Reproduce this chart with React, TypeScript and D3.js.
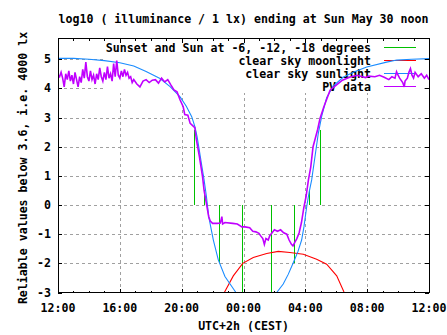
import React from "react";
import * as d3 from "d3";

// hours since 12:00 (Sat) -> value log10(lx)
const blueT = [0, 1, 2, 3, 4, 4.9, 5.7, 6.6, 7.25, 7.9, 8.3, 8.65, 8.86, 9.0, 9.15, 9.3, 9.45, 9.6, 9.75, 10.05, 10.37, 10.8, 11.51, 11.9,
  13.8, 14.15, 14.57, 14.9, 15.22, 15.52, 15.76, 15.91, 16.09, 16.25, 16.41, 16.84, 17.06, 17.38, 17.81, 18.45, 19.1, 19.97, 21.26, 21.91, 22.88, 24];
const blueV = [5.03, 5.03, 5.0, 4.95, 4.88, 4.77, 4.58, 4.34, 4.06, 3.71, 3.39, 3.03, 2.68, 2.34, 1.85, 1.35, 0.86, 0.3, -0.4, -1.2, -1.88, -2.45, -3.0, -3.3,
  -3.4, -3.0, -2.71, -2.37, -1.98, -1.6, -1.2, -0.75, -0.05, 0.45, 0.86, 2.46, 3.05, 3.68, 4.09, 4.38, 4.55, 4.73, 4.9, 4.97, 5.0, 5.02];

const redT = [10.76, 11.34, 11.95, 12.63, 13.5, 14.25, 15.0, 15.87, 16.73, 17.38, 18.03, 18.5];
const redV = [-3.0, -2.43, -2.0, -1.8, -1.66, -1.59, -1.63, -1.69, -1.86, -2.03, -2.43, -2.98];

const greenT = [8.82, 9.47, 10.43, 11.93, 13.8, 15.28, 16.24, 16.97];
const greenV = [2.57, 0.5, -2.0, -3.5, -3.5, -2.0, 0.5, 2.57];

const pvT = [0, 0.1, 0.2, 0.3, 0.4, 0.5, 0.6, 0.7, 0.8, 0.9, 1.0, 1.1, 1.2, 1.3, 1.4, 1.5, 1.6, 1.7, 1.8, 1.9, 2.0, 2.1, 2.2, 2.3, 2.4, 2.5, 2.6, 2.7, 2.8, 2.9,
  3.0, 3.1, 3.2, 3.3, 3.4, 3.5, 3.6, 3.7, 3.8, 3.9, 4.0, 4.1, 4.2, 4.3, 4.4, 4.5, 4.6, 4.7, 4.8, 4.9, 5.1, 5.3, 5.5, 5.7, 5.9, 6.1, 6.3, 6.5, 6.7, 6.9,
  7.1, 7.3, 7.5, 7.7, 7.9, 8.1, 8.2, 8.4, 8.55, 8.85, 8.95, 9.15, 9.35, 9.45, 9.6, 9.75, 9.85, 10.0, 10.3, 10.5, 10.6, 10.65, 10.8, 11.3, 11.6, 11.9,
  12.1, 12.4, 12.6, 12.8, 13.0, 13.1, 13.25, 13.35, 13.45, 13.6, 13.7, 13.85, 14.0, 14.2, 14.4, 14.6, 14.8, 14.95, 15.1, 15.2, 15.3, 15.45, 15.6,
  15.75, 15.9, 16.05, 16.2, 16.35, 16.5, 16.65, 16.8, 16.95, 17.2, 17.4, 17.6, 18.0, 18.4, 18.9, 19.35, 19.9, 20.1, 20.5, 20.8, 21.1, 21.4, 21.6,
  21.8, 21.9, 22.0, 22.1, 22.3, 22.4, 22.45, 22.6, 22.7, 22.8, 22.9, 23.0, 23.1, 23.3, 23.5, 23.7, 23.85, 24.0];
const pvV = [4.45, 4.4, 4.55, 4.35, 4.05, 4.5, 4.3, 4.6, 4.25, 4.45, 4.15, 4.55, 4.3, 4.05, 4.4, 4.2, 4.65, 4.35, 4.9, 4.4, 4.25, 4.6, 4.3, 4.45, 4.15, 4.5, 4.3, 4.7, 4.4, 4.25,
  4.55, 4.3, 4.75, 4.35, 4.5, 4.25, 4.85, 4.4, 4.95, 4.45, 4.35, 4.6, 4.4, 4.65, 4.45, 4.55, 4.35, 4.4, 4.2, 4.3, 4.15, 4.05, 4.25, 4.3, 4.2, 4.28, 4.3, 4.18, 4.35, 4.22,
  4.3, 4.12, 3.95, 3.88, 3.6, 3.37, 3.1, 3.08, 2.8, 2.65, 2.25, 1.65, 0.97, 0.5, 0.06, -0.4, -0.55, -0.63, -0.63, -0.62, -0.4, -0.65, -0.6, -0.63, -0.65, -0.75,
  -0.75, -0.78, -0.9, -0.92, -0.97, -1.05, -1.15, -1.35, -1.15, -1.2, -1.05, -0.95, -0.85, -0.9, -0.85, -0.95, -1.0, -1.2, -1.35, -1.4, -1.3, -1.15, -0.95,
  -0.6, -0.1, 0.3, 0.86, 1.3, 2.0, 2.3, 2.6, 2.97, 3.37, 3.65, 3.94, 4.11, 4.28, 4.39, 4.45, 4.37, 4.42, 4.4, 4.45, 4.38, 4.3, 4.4,
  4.35, 4.57, 4.45, 4.35, 4.2, 4.05, 4.25, 4.35, 4.55, 4.68, 4.45, 4.35, 4.55, 4.4, 4.5, 4.35, 4.45, 4.3];

const xTickHours = [0, 4, 8, 12, 16, 20, 24];
const xTickLabels = ["12:00", "16:00", "20:00", "00:00", "04:00", "08:00", "12:00"];
const yTicks = [-3, -2, -1, 0, 1, 2, 3, 4, 5];

const legendLabels = ["Sunset and Sun at -6, -12, -18 degrees", "clear sky moonlight", "clear sky sunlight", "PV data"];
const legendColors = ["#00c000", "#ff0000", "#1a8cff", "#c000ff"];

const W = 447, H = 335;
const L = 58, R = 429, T = 38.5, B = 292.5;
const FONT = "'DejaVu Sans Mono', 'Liberation Mono', monospace";

export default function App() {
  const x = d3.scaleLinear().domain([0, 24]).range([L, R]);
  const y = d3.scaleLinear().domain([-3, 5.71]).range([B, T]);
  const line = d3.line<[number, number]>().x((d) => x(d[0])).y((d) => y(d[1]));
  const zip = (a: number[], b: number[]) => a.map((t, i) => [t, b[i]] as [number, number]);
  const minorHours = d3.range(0, 25, 1);

  return (
    <svg width={W} height={H} style={{ position: "absolute", left: 0, top: 0, background: "#fff" }} fontFamily={FONT} fontWeight="bold" fontSize={11.6}>
      <defs>
        <clipPath id="plot"><rect x={L} y={T} width={R - L} height={B - T} /></clipPath>
      </defs>
      <rect width={W} height={H} fill="#fff" />
      {/* grid */}
      <g stroke="#a0a0a0" strokeDasharray="3 3" shapeRendering="crispEdges">
        {xTickHours.slice(1, -1).map((h) => (
          <line key={"gx" + h} x1={Math.round(x(h)) + 0.5} x2={Math.round(x(h)) + 0.5} y1={B} y2={T} />
        ))}
        {yTicks.slice(1).map((v) => (
          <line key={"gy" + v} x1={L} x2={R} y1={Math.round(y(v)) + 0.5} y2={Math.round(y(v)) + 0.5} />
        ))}
      </g>
      {/* key background */}
      <rect x={103} y={T + 0.5} width={318} height={54} fill="#fff" />
      {/* legend */}
      {legendLabels.map((lab, i) => (
        <g key={lab}>
          <text x={371} y={52 + i * 13} textAnchor="end">{lab}</text>
          <line x1={384} x2={416} y1={47.5 + i * 13} y2={47.5 + i * 13} stroke={legendColors[i]} shapeRendering="crispEdges" />
        </g>
      ))}
      {/* data */}
      <g clipPath="url(#plot)" fill="none">
        {greenT.map((t, i) => (
          <line key={"g" + i} x1={Math.round(x(t)) + 0.5} x2={Math.round(x(t)) + 0.5} y1={y(0)} y2={y(greenV[i])} stroke={legendColors[0]} shapeRendering="crispEdges" />
        ))}
        <path d={line(zip(redT, redV)) || ""} stroke={legendColors[1]} strokeWidth={1.1} />
        <path d={line(zip(blueT, blueV)) || ""} stroke={legendColors[2]} strokeWidth={1.1} />
        <path d={line(zip(pvT, pvV)) || ""} stroke={legendColors[3]} strokeWidth={1.6} />
      </g>
      {/* border */}
      <rect x={L + 0.5} y={T} width={R - L - 0.5} height={B - T} fill="none" stroke="#000" shapeRendering="crispEdges" />
      {/* ticks */}
      <g stroke="#000" shapeRendering="crispEdges">
        {minorHours.map((h) => {
          const len = h % 4 === 0 ? 4 : 2;
          const px = Math.round(x(h)) + 0.5;
          return (
            <g key={"t" + h}>
              <line x1={px} x2={px} y1={B} y2={B - len} />
              <line x1={px} x2={px} y1={T} y2={T + len} />
            </g>
          );
        })}
        {yTicks.map((v) => {
          const py = Math.round(y(v)) + 0.5;
          return (
            <g key={"yt" + v}>
              <line x1={L} x2={L + 4} y1={py} y2={py} />
              <line x1={R} x2={R - 4} y1={py} y2={py} />
            </g>
          );
        })}
      </g>
      {/* tick labels */}
      {yTicks.map((v) => (
        <text key={"yl" + v} x={51} y={y(v) + 4} textAnchor="end">{v}</text>
      ))}
      {xTickHours.map((h, i) => (
        <text key={"xl" + i} x={x(h)} y={312} textAnchor="middle">{xTickLabels[i]}</text>
      ))}
      <text x={(L + R) / 2} y={330} textAnchor="middle">UTC+2h (CEST)</text>
      <text x={(L + R) / 2} y={23} textAnchor="middle">log10 ( illuminance / 1 lx) ending at Sun May 30 noon</text>
      <text transform="translate(26.5,168) rotate(-90)" textAnchor="middle">Reliable values below 3.6, i.e. 4000 lx</text>
    </svg>
  );
}
